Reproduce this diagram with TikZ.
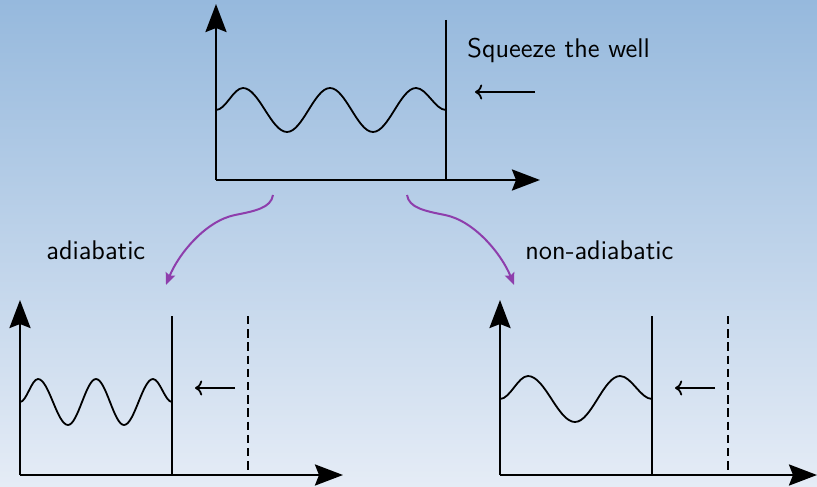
\documentclass[tikz,border=0pt]{standalone}
\usetikzlibrary{arrows.meta}
\definecolor{bgtop}{RGB}{150,185,221}
\definecolor{bgbot}{RGB}{229,236,246}
\definecolor{arrpurple}{RGB}{142,62,172}
\tikzset{
  axis/.style={line width=1.35pt,-{Stealth[length=14pt,width=10.5pt,inset=2pt]}},
  wall/.style={line width=1pt},
  oldwall/.style={line width=1pt,dash pattern=on 4.2pt off 2.4pt},
  wave/.style={line width=0.9pt},
  push/.style={line width=0.9pt,->},
  branch/.style={line width=1pt,arrpurple,-{Stealth[length=6pt,width=5pt,inset=1pt]}},
  lbl/.style={anchor=base west,inner sep=0pt,font=\sffamily\fontsize{13.5}{15}\selectfont}
}
\begin{document}
\begin{tikzpicture}[x=0.5pt,y=-0.5pt]
\useasboundingbox (0,0) rectangle (817,486);
\shade[top color=bgtop,bottom color=bgbot] (0,0) rectangle (817,486);

% ---------- top well ----------
\coordinate (To) at (216,180);
\coordinate (Ty) at (216,4);
\coordinate (Tx) at (540,180);
\coordinate (Tw1) at (446,20);
\coordinate (Tw2) at (446,180);
\draw[axis] (To) -- (Ty);
\draw[axis] (To) -- (Tx);
\draw[wall] (Tw1) -- (Tw2);
\draw[wave] (216,110) .. controls +(9.7,0) and +(-9.7,0) .. (243,88)
  .. controls +(15.8,0) and +(-15.8,0) .. (287,132)
  .. controls +(15.5,0) and +(-15.5,0) .. (330,88)
  .. controls +(15.5,0) and +(-15.5,0) .. (373,132)
  .. controls +(15.5,0) and +(-15.5,0) .. (416,88)
  .. controls +(10.8,0) and +(-10.8,0) .. (446,110);
\coordinate (Ta1) at (535,92);
\coordinate (Ta2) at (475,92);
\draw[push] (Ta1) -- (Ta2);
\node[lbl] (sq) at (467,58) {Squeeze the well};

% ---------- bottom left well ----------
\coordinate (Lo) at (20,475);
\coordinate (Ly) at (20,300);
\coordinate (Lx) at (343,475);
\draw[axis] (Lo) -- (Ly);
\draw[axis] (Lo) -- (Lx);
\coordinate (Lw1) at (172,316);
\coordinate (Lw2) at (172,475);
\draw[wall] (Lw1) -- (Lw2);
\coordinate (Ld1) at (248,316);
\coordinate (Ld2) at (248,472);
\draw[oldwall] (Ld1) -- (Ld2);
\draw[wave] (20,402) .. controls +(6.5,0) and +(-6.5,0) .. (38,379)
  .. controls +(10.8,0) and +(-10.8,0) .. (68,425)
  .. controls +(10,0) and +(-10,0) .. (96,379)
  .. controls +(10,0) and +(-10,0) .. (124,425)
  .. controls +(10.4,0) and +(-10.4,0) .. (153,379)
  .. controls +(6.8,0) and +(-6.8,0) .. (172,402);
\coordinate (La1) at (235,388);
\coordinate (La2) at (195,388);
\draw[push] (La1) -- (La2);

% ---------- bottom right well ----------
\coordinate (Ro) at (500,475);
\coordinate (Ry) at (500,300);
\coordinate (Rx) at (817,475);
\draw[axis] (Ro) -- (Ry);
\draw[axis] (Ro) -- (Rx);
\coordinate (Rw1) at (652,316);
\coordinate (Rw2) at (652,475);
\draw[wall] (Rw1) -- (Rw2);
\coordinate (Rd1) at (728,316);
\coordinate (Rd2) at (728,472);
\draw[oldwall] (Rd1) -- (Rd2);
\draw[wave] (500,399) .. controls +(10,0) and +(-10,0) .. (528,376)
  .. controls +(17,0) and +(-17,0) .. (575,422)
  .. controls +(16.2,0) and +(-16.2,0) .. (620,376)
  .. controls +(11.5,0) and +(-11.5,0) .. (652,399);
\coordinate (Ra1) at (715,388);
\coordinate (Ra2) at (675,388);
\draw[push] (Ra1) -- (Ra2);

% ---------- branches ----------
\coordinate (Bl0) at (273,195);
\coordinate (Blm) at (235,215);
\coordinate (Bl1) at (166,285);
\coordinate (Br0) at (407,195);
\coordinate (Brm) at (445,215);
\coordinate (Br1) at (514,285);
\draw[branch] (Bl0) .. controls (271,208) and (255,211) .. (Blm)
  .. controls (205,221) and (178,255) .. (Bl1);
\draw[branch] (Br0) .. controls (409,208) and (425,211) .. (Brm)
  .. controls (475,221) and (502,255) .. (Br1);
\node[lbl] (ad) at (46,259) {adiabatic};
\node[lbl] (nad) at (525,259) {non-adiabatic};
\end{tikzpicture}
\end{document}
